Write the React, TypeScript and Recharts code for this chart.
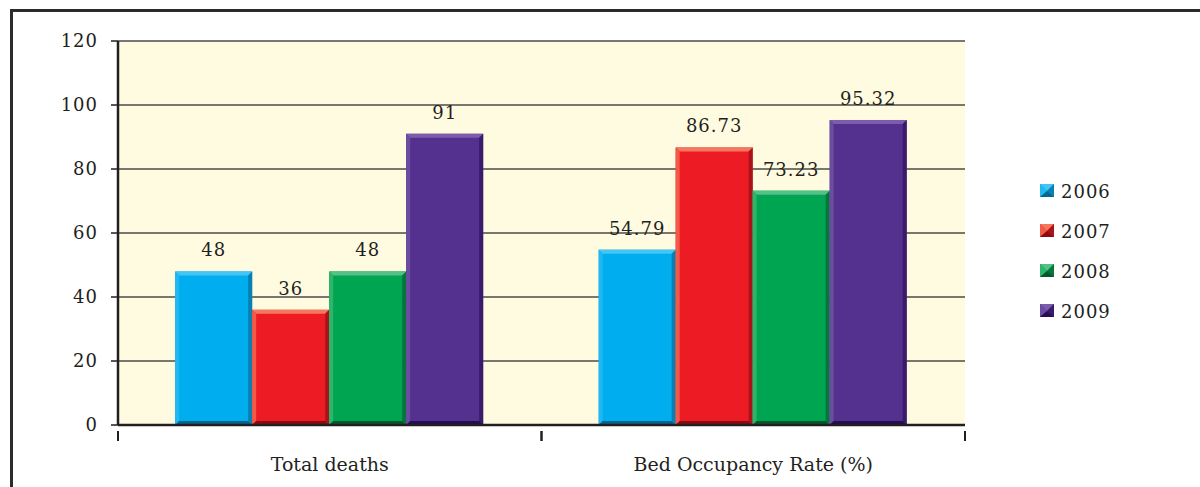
import React from 'react';
import { BarChart, Bar, XAxis, YAxis, CartesianGrid, LabelList } from 'recharts';

const categories = ['Total deaths', 'Bed Occupancy Rate (%)'];
const years = ['2006', '2007', '2008', '2009'];
const values2006 = [48, 54.79];
const values2007 = [36, 86.73];
const values2008 = [48, 73.23];
const values2009 = [91, 95.32];
const yTicks = [0, 20, 40, 60, 80, 100, 120];

const seriesValues = [values2006, values2007, values2008, values2009];

// main / top / left / right / bottom shades per year
const tones = [
  { main: '#00adee', top: '#44c6f4', left: '#1fb8f0', right: '#0b7eb2', bottom: '#08658f' },
  { main: '#ed1c24', top: '#f4785e', left: '#f15a46', right: '#a9141a', bottom: '#8a0c10' },
  { main: '#00a551', top: '#55c087', left: '#2eb46b', right: '#06743b', bottom: '#04582c' },
  { main: '#54318f', top: '#7b5dab', left: '#6a4ca0', right: '#381c6a', bottom: '#270d52' },
];

const data = categories.map((name, i) => {
  const row: Record<string, string | number> = { name };
  years.forEach((yr, s) => {
    row[yr] = seriesValues[s][i];
  });
  return row;
});

const FONT = '"DejaVu Serif", serif';
const INK = '#231f20';

const BevelBar = (props: any) => {
  const { x, y, width: w, height: h, tone } = props;
  if (!w || !h) return null;
  const b = 4;
  const pts = (arr: number[][]) => arr.map((p) => p.join(',')).join(' ');
  return (
    <g>
      <rect x={x} y={y} width={w} height={h} fill={tone.main} />
      <polygon points={pts([[x, y], [x + w, y], [x + w - b, y + b], [x + b, y + b]])} fill={tone.top} />
      <polygon points={pts([[x, y], [x + b, y + b], [x + b, y + h - b], [x, y + h]])} fill={tone.left} />
      <polygon points={pts([[x + w, y], [x + w, y + h], [x + w - b, y + h - b], [x + w - b, y + b]])} fill={tone.right} />
      <polygon points={pts([[x, y + h], [x + w, y + h], [x + w - b, y + h - b], [x + b, y + h - b]])} fill={tone.bottom} />
    </g>
  );
};

const XTick = (props: any) => {
  const { x, y, payload } = props;
  const half = payload.offset || 0;
  return (
    <g>
      <line x1={x - half} x2={x - half} y1={y - 2} y2={y + 8} stroke={INK} strokeWidth={2} />
      <line x1={x + half} x2={x + half} y1={y - 2} y2={y + 8} stroke={INK} strokeWidth={2} />
      <text x={x} y={y + 38} textAnchor="middle" fontFamily={FONT} fontSize={19} fill={INK}>
        {payload.value}
      </text>
    </g>
  );
};

const LegendIcon = ({ tone }: { tone: any }) => {
  const s = 14;
  const c = s / 2;
  return (
    <svg width={15} height={14} style={{ display: 'block' }}>
      <rect x={0} y={0} width={s} height={s - 1} fill={tone.main} />
      <polygon points={`0,0 ${s},0 ${c},${c}`} fill={tone.top} />
      <polygon points={`0,0 0,${s - 1} ${c},${c}`} fill={tone.left} />
      <polygon points={`${s},0 ${s},${s - 1} ${c},${c}`} fill={tone.right} />
      <polygon points={`0,${s - 1} ${s},${s - 1} ${c},${c}`} fill={tone.bottom} />
    </svg>
  );
};

const YearLegend = () => (
  <div style={{ position: 'absolute', left: 1040, top: 171, fontFamily: FONT, fontSize: 18, color: INK, letterSpacing: 1 }}>
    {years.map((yr, i) => (
      <div key={yr} style={{ display: 'flex', alignItems: 'center', height: 40 }}>
        <LegendIcon tone={tones[i]} />
        <span style={{ marginLeft: 6 }}>{yr}</span>
      </div>
    ))}
  </div>
);

export default function App() {
  return (
    <div style={{ position: 'absolute', left: 0, top: 0, width: 1200, height: 487, background: '#fff', overflow: 'hidden' }}>
      <div
        style={{
          position: 'absolute',
          left: 10,
          top: 9,
          width: 1200,
          height: 500,
          borderTop: '3px solid #2b2b2b',
          borderLeft: '3px solid #2b2b2b',
        }}
      />
      <div style={{ position: 'absolute', left: 0, top: 0 }}>
        <BarChart
          width={1200}
          height={487}
          data={data}
          margin={{ top: 41, right: 235, left: 0, bottom: 0 }}
          barCategoryGap="13.5%"
          barGap={0}
        >
          <CartesianGrid vertical={false} stroke="#4a4a4a" strokeWidth={1.3} fill="#fffbe0" fillOpacity={1} />
          <XAxis
            dataKey="name"
            height={62}
            axisLine={{ stroke: INK, strokeWidth: 2.5 }}
            tickLine={false}
            tick={<XTick />}
            interval={0}
          />
          <YAxis
            width={118}
            domain={[0, 120]}
            ticks={yTicks}
            interval={0}
            axisLine={{ stroke: INK, strokeWidth: 2.5 }}
            tickLine={{ stroke: INK, strokeWidth: 1.5 }}
            tickSize={7}
            tickMargin={13}
            tick={{ fontFamily: FONT, fontSize: 18, fill: INK, letterSpacing: 1 }}
          />
          {years.map((yr, i) => (
            <Bar
              key={yr}
              dataKey={yr}
              fill={tones[i].main}
              isAnimationActive={false}
              shape={(p: any) => <BevelBar {...p} tone={tones[i]} />}
            >
              <LabelList
                dataKey={yr}
                position="top"
                offset={15}
                style={{ fontFamily: FONT, fontSize: 18, fill: INK, letterSpacing: 1 }}
              />
            </Bar>
          ))}
        </BarChart>
      </div>
      <YearLegend />
    </div>
  );
}
